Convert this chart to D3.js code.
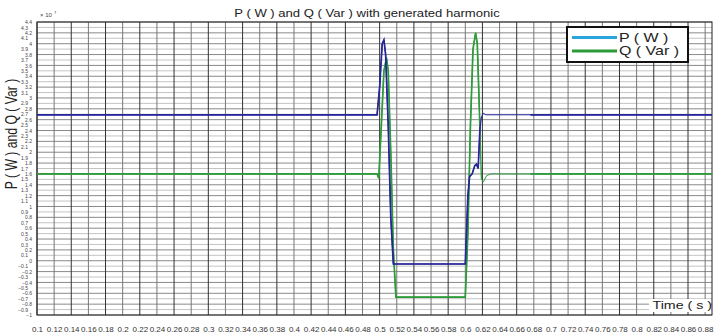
<!DOCTYPE html>
<html><head><meta charset="utf-8">
<script src="https://cdn.jsdelivr.net/npm/d3@7"></script>
<style>body{margin:0;background:#fff}svg{display:block}</style>
</head><body>
<svg id="c" width="716" height="335"></svg>
<script>
// ---- data (values x 10^7) ----
const timeP = [0.1, 0.497, 0.500, 0.503, 0.505, 0.507, 0.510, 0.513, 0.516, 0.600, 0.603, 0.605, 0.608, 0.611, 0.613, 0.615, 0.617, 0.619, 0.621, 0.624, 0.888];
const valueP = [2.69, 2.69, 3.2, 4.0, 4.07, 3.8, 2.5, 0.8, -0.06, -0.06, 1.2, 1.55, 1.6, 1.75, 1.78, 1.7, 2.4, 2.65, 2.72, 2.69, 2.69];
const timeQ = [0.1, 0.497, 0.499, 0.502, 0.505, 0.508, 0.510, 0.513, 0.516, 0.519, 0.600, 0.603, 0.606, 0.609, 0.612, 0.614, 0.617, 0.619, 0.621, 0.625, 0.63, 0.888];
const valueQ = [1.6, 1.6, 1.52, 2.5, 3.5, 3.74, 3.5, 2.0, 0.2, -0.67, -0.67, 0.5, 2.5, 3.9, 4.2, 4.0, 2.5, 1.5, 1.45, 1.57, 1.6, 1.6];
const xTicks = d3.range(0, 40).map(i => +(0.1 + i * 0.02).toFixed(2));
const yTicks = d3.range(0, 55).map(i => +(-1 + i * 0.1).toFixed(1));
const seriesNames = ["P ( W )", "Q (  Var )"];

const FONT = "Arial, 'Liberation Sans', sans-serif";
const svg = d3.select("#c");
const x = d3.scaleLinear().domain([0.1, 0.888]).range([37, 712]);
const y = d3.scaleLinear().domain([-1, 4.4]).range([315, 22]);

// grid
const g = svg.append("g");
g.selectAll(".hg").data(yTicks).join("line")
  .attr("x1", x.range()[0]).attr("x2", x.range()[1])
  .attr("y1", d => y(d)).attr("y2", d => y(d))
  .attr("stroke", (d, i) => i % 2 ? "#c4c4c4" : "#8a8a8a").attr("stroke-width", 1);
g.selectAll(".vg").data(xTicks).join("line")
  .attr("x1", d => x(d)).attr("x2", d => x(d))
  .attr("y1", y.range()[0]).attr("y2", y.range()[1])
  .attr("stroke", (d, i) => i % 2 ? "#777" : "#333").attr("stroke-width", 1);
g.append("rect").attr("x", 37).attr("y", 22).attr("width", 675).attr("height", 293)
  .attr("fill", "none").attr("stroke", "#222").attr("stroke-width", 1);

// axes
const xAxis = d3.axisBottom(x).tickValues(xTicks).tickSize(0).tickPadding(0).tickFormat(d3.format("~g"));
svg.append("g").attr("transform", "translate(0,315)").call(xAxis)
  .call(a => a.select(".domain").remove())
  .selectAll("text").attr("font-family", FONT).attr("font-size", 8).attr("fill", "#333")
  .attr("y", 17).attr("dy", 0);
const yAxis = d3.axisLeft(y).tickValues(yTicks).tickSize(0).tickFormat(d3.format("~g"));
svg.append("g").attr("transform", "translate(35,0)").call(yAxis)
  .call(a => a.select(".domain").remove())
  .selectAll("text").attr("font-family", FONT).attr("font-size", 5).attr("fill", "#444")
  .attr("dx", (d, i) => i % 2 ? -4 : 0);

svg.append("text").attr("x", 40).attr("y", 17).attr("font-family", FONT).attr("font-size", 6).attr("fill", "#444").text("× 10");
svg.append("text").attr("x", 54).attr("y", 14).attr("font-family", FONT).attr("font-size", 4).attr("fill", "#444").text("7");

// clip: thin segment after the second transient
const defs = svg.append("defs");
const thinFrom = x(0.618), thinTo = x(0.676);
const cp = defs.append("clipPath").attr("id", "thick");
cp.append("rect").attr("x", 0).attr("y", 0).attr("width", thinFrom).attr("height", 335);
cp.append("rect").attr("x", thinTo).attr("y", 0).attr("width", 716 - thinTo).attr("height", 335);

const line = d3.line().x(d => x(d[0])).y(d => y(d[1]));
const series = [
  { t: timeQ, v: valueQ, color: "#2e9b3a" },
  { t: timeP, v: valueP, color: "#26269a" }
];
series.forEach(s => {
  const pts = s.t.map((t, i) => [t, s.v[i]]);
  svg.append("path").datum(pts).attr("d", line).attr("fill", "none")
    .attr("stroke", s.color).attr("stroke-width", 1);
  svg.append("path").datum(pts).attr("d", line).attr("fill", "none")
    .attr("stroke", s.color).attr("stroke-width", 1.7).attr("clip-path", "url(#thick)");
});

// title and labels (source fonts are horizontally stretched)
svg.append("text").attr("transform", "translate(367,17) scale(1.27,1)").attr("text-anchor", "middle")
  .attr("font-family", FONT).attr("font-size", 10.3).attr("fill", "#222")
  .text("P ( W ) and Q ( Var ) with generated harmonic");
svg.append("text").attr("transform", "translate(17,134) scale(1.3,1) rotate(-90)").attr("text-anchor", "middle")
  .attr("font-family", FONT).attr("font-size", 12.2).attr("fill", "#222")
  .text("P ( W ) and Q ( Var )");
svg.append("rect").attr("x", 649).attr("y", 299).attr("width", 62).attr("height", 13).attr("fill", "#fff");
svg.append("text").attr("transform", "translate(712,309) scale(1.38,1)").attr("text-anchor", "end")
  .attr("font-family", FONT).attr("font-size", 10.3).attr("fill", "#222")
  .text("Time ( s )");

// legend
const lg = svg.append("g");
lg.append("rect").attr("x", 567).attr("y", 27).attr("width", 121).attr("height", 35)
  .attr("fill", "#fff").attr("stroke", "#111").attr("stroke-width", 2);
const legColors = ["#2aa5dc", "#2e9b3a"];
seriesNames.forEach((n, i) => {
  lg.append("line").attr("x1", 572).attr("x2", 617).attr("y1", 37.5 + i * 13.5).attr("y2", 37.5 + i * 13.5)
    .attr("stroke", legColors[i]).attr("stroke-width", 3);
  lg.append("text").attr("transform", `translate(619,${41.7 + i * 13.5}) scale(1.3,1)`)
    .attr("font-family", FONT).attr("font-size", 12.3).attr("fill", "#222")
    .text(n);
});
</script>
</body></html>
